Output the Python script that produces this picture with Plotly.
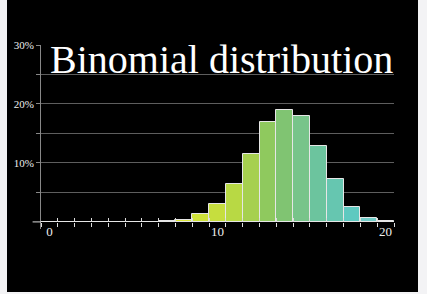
import plotly.graph_objects as go

# ---- data ----
k_values = list(range(21))
prob_pct = [0, 0, 0, 0, 0, 0, 0.03, 0.1, 0.35, 1.3, 3.1, 6.5, 11.6, 16.9,
            19.0, 18.0, 12.9, 7.3, 2.5, 0.7, 0.1]
y_tick_vals = [5, 10, 15, 20, 25, 30]
y_tick_text = ["", "10%", "", "20%", "", "30%"]
x_label_vals = [0, 10, 20]
x_label_text = ["0", "10", "20"]
title_text = "Binomial distribution"

# ---- style ----
bar_colors = ["#e0e84a"] * 8 + [
    "#dbe63c", "#cfe23a", "#c6de3e", "#b8d944", "#a6d04f", "#8fc95e",
    "#80c472", "#78c48a", "#6cc49e", "#66c6b0", "#5ec9c0", "#72ccc8", "#cfe8e8"]

W, H = 427, 294
L, R, T, B = 41, 33, 45, 65
plot_w = W - L - R
plot_h = H - T - B
y_min, y_max = -1.2, 30.0
x_min, x_max = 0, 21

def px_x(px):
    return (px - L) / plot_w

def px_y(py):
    return (H - B - py) / plot_h

# bars: bar k spans [k, k+1]
centers = [k + 0.5 for k in k_values]
y0_pos = (0 - y_min) / (y_max - y_min)

fig = go.Figure()
fig.add_trace(go.Bar(
    x=centers, y=[v / 100 * 100 for v in prob_pct], width=1,
    marker=dict(color=bar_colors, line=dict(color="#e6e6e6", width=1)),
    xaxis="x", yaxis="y", hoverinfo="skip", showlegend=False))
# invisible traces so that tick-only axes are drawn
for ax in ["x2", "x3"]:
    fig.add_trace(go.Scatter(x=[None], y=[None], xaxis=ax, yaxis="y",
                             showlegend=False, hoverinfo="skip"))

serif = "Liberation Serif"
fig.update_layout(
    width=W, height=H,
    margin=dict(l=L, r=R, t=T, b=B, pad=0),
    paper_bgcolor="#f3f3f5",
    plot_bgcolor="black",
    bargap=0,
    xaxis=dict(range=[x_min, x_max], anchor="free", position=y0_pos,
               tickvals=[v + 0.5 for v in x_label_vals], ticktext=x_label_text,
               ticks="", showline=False, showgrid=False, zeroline=False,
               tickfont=dict(family=serif, size=13, color="#eeeeee")),
    xaxis2=dict(range=[x_min, x_max], overlaying="x", anchor="free", position=y0_pos,
                tickvals=list(range(22)), ticks="outside", ticklen=4, tickwidth=1,
                tickcolor="#dddddd", showticklabels=False, showline=False,
                showgrid=False, zeroline=False),
    xaxis3=dict(range=[x_min, x_max], overlaying="x", anchor="free", position=y0_pos,
                tickvals=list(range(22)), ticks="inside", ticklen=4, tickwidth=1,
                tickcolor="#dddddd", showticklabels=False, showline=False,
                showgrid=False, zeroline=False),
    yaxis=dict(range=[y_min, y_max], tickvals=y_tick_vals, ticktext=y_tick_text,
               ticks="outside", ticklen=4, tickwidth=1, tickcolor="#888888",
               showline=True, linecolor="#888888", linewidth=1,
               showgrid=True, gridcolor="#5e5e5e", gridwidth=1,
               zeroline=True, zerolinecolor="#dddddd", zerolinewidth=1,
               tickfont=dict(family=serif, size=11, color="#eeeeee")),
    shapes=[
        dict(type="rect", xref="paper", yref="paper",
             x0=px_x(7), x1=px_x(418), y0=px_y(292), y1=px_y(0),
             fillcolor="black", line=dict(width=0), layer="below"),
        dict(type="line", xref="paper", yref="y",
             x0=-0.5 / (x_max - x_min), x1=0, y0=0, y1=0,
             line=dict(color="#dddddd", width=1), layer="above"),
    ],
    annotations=[dict(text=title_text, xref="paper", yref="paper",
                      x=px_x(221), y=px_y(59.5), xanchor="center", yanchor="middle",
                      showarrow=False,
                      font=dict(family=serif, size=40, color="white"))],
)

fig.write_html("out.html")
